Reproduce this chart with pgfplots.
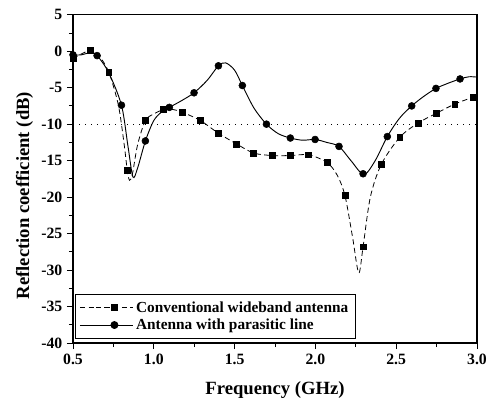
\documentclass[border=0pt]{standalone}
\usepackage{pgfplots}
\pgfplotsset{compat=1.18}
\usepackage{fontspec}
\setmainfont{Liberation Serif}
\begin{document}
\begin{tikzpicture}
\path[use as bounding box] (-54.75pt,-46.5pt) rectangle (313.5pt,257.25pt);
\begin{axis}[
  scale only axis, width=303pt, height=246.2pt,
  at={(0,0)}, anchor=south west,
  xmin=0.5, xmax=3.0, ymin=-40, ymax=5,
  xtick={0.5,1.0,...,3.0}, ytick={-40,-35,...,5},
  minor x tick num=1, minor y tick num=1,
  tick align=outside, xtick pos=bottom, ytick pos=left,
  major tick length=4.5pt, minor tick length=3pt,
  tick style={black, line width=0.7pt},
  axis line style={line width=0.8pt},
  /pgf/number format/assume math mode=true,
  xticklabel style={/pgf/number format/fixed, /pgf/number format/fixed zerofill, /pgf/number format/precision=1},
  ticklabel style={font=\bfseries\fontsize{11.8}{13}\selectfont},
  xlabel={\bfseries Frequency (GHz)},
  ylabel={\bfseries Reflection coefficient (dB)},
  label style={font=\bfseries\fontsize{14}{16}\selectfont},
  xlabel style={at={(axis description cs:0.5,-0.142)}, anchor=center},
  ylabel style={at={(axis description cs:-0.12,0.449)}, anchor=center, rotate=0},
  legend style={at={(axis description cs:0.005,0.012)}, anchor=south west, draw=black, line width=0.6pt,
    font=\bfseries\fontsize{11.5}{13}\selectfont, inner xsep=3pt, inner ysep=3.5pt, row sep=-0.5pt},
  legend cell align=left,
  legend image code/.code={\path (0cm,0cm) -- (0.42cm,0cm); \draw[mark repeat=2,mark phase=2] plot coordinates {(0.42cm,0cm) (0.91cm,0cm) (1.40cm,0cm)};},
]
\addplot[black, line width=0.6pt, dash pattern=on 1pt off 3.5pt, forget plot] coordinates {(0.5,-10) (3.0,-10)};
% conventional: line
\addplot[black, line width=0.6pt, dash pattern=on 4pt off 2.5pt, smooth, tension=0.5, forget plot] coordinates {
(0.5,-1.0) (0.55,-0.4) (0.608,0.1) (0.66,-0.6) (0.721,-2.85) (0.78,-7.3) (0.815,-12.5) (0.836,-16.35) (0.85,-17.7)
(0.868,-16.8) (0.9,-12.8) (0.948,-9.5) (1.0,-8.6) (1.061,-8.0) (1.12,-8.0) (1.175,-8.35) (1.288,-9.5) (1.397,-11.2)
(1.511,-12.7) (1.618,-13.96) (1.734,-14.3) (1.847,-14.3) (1.958,-14.2) (2.072,-15.25) (2.135,-17) (2.183,-19.8)
(2.23,-25.5) (2.268,-30.4) (2.295,-26.8) (2.34,-20) (2.408,-15.5) (2.522,-11.8) (2.635,-9.85) (2.749,-8.5)
(2.862,-7.25) (2.975,-6.3) (3.0,-6.1)};
% parasitic: line
\addplot[black, line width=0.7pt, smooth, tension=0.5, forget plot] coordinates {
(0.5,-0.5) (0.55,-0.5) (0.61,-0.2) (0.649,-0.6) (0.72,-2.9) (0.8,-7.4) (0.84,-13) (0.871,-17.25) (0.9,-16)
(0.948,-12.3) (1.0,-9.5) (1.05,-8.3) (1.096,-7.7) (1.17,-6.8) (1.249,-5.7) (1.33,-4.0) (1.4,-2.0) (1.445,-1.6)
(1.5,-2.6) (1.548,-4.7) (1.62,-7.8) (1.697,-10.0) (1.77,-11.3) (1.845,-11.9) (1.92,-12.2) (1.998,-12.1)
(2.07,-12.5) (2.146,-13.05) (2.22,-15) (2.30,-16.9) (2.37,-15) (2.445,-11.7) (2.52,-9.2) (2.596,-7.5)
(2.67,-6.2) (2.746,-5.1) (2.82,-4.4) (2.895,-3.8) (2.95,-3.5) (3.0,-3.55)};
% markers
\addplot[only marks, mark=square*, mark size=2.2pt, black, forget plot] coordinates {
(0.5,-1.0) (0.608,0.1) (0.721,-2.85) (0.836,-16.35) (0.948,-9.5) (1.061,-8.0) (1.175,-8.35) (1.288,-9.5)
(1.397,-11.2) (1.511,-12.7) (1.618,-13.96) (1.734,-14.3) (1.847,-14.3) (1.958,-14.2) (2.072,-15.25)
(2.183,-19.8) (2.295,-26.8) (2.408,-15.5) (2.522,-11.8) (2.635,-9.85) (2.749,-8.5) (2.862,-7.25) (2.975,-6.3)};
\addplot[only marks, mark=*, mark size=2.6pt, black, forget plot] coordinates {
(0.5,-0.5) (0.649,-0.6) (0.8,-7.4) (0.948,-12.3) (1.096,-7.7) (1.249,-5.7) (1.4,-2.0) (1.548,-4.7)
(1.697,-10.0) (1.845,-11.9) (1.998,-12.1) (2.146,-13.05) (2.295,-16.8) (2.445,-11.7) (2.596,-7.5)
(2.746,-5.1) (2.895,-3.8)};
\addlegendimage{black, line width=0.6pt, dash pattern=on 4pt off 2.5pt, mark=square*, mark size=2.2pt, mark options={solid}}
\addlegendentry{Conventional wideband antenna}
\addlegendimage{black, line width=0.7pt, mark=*, mark size=2.6pt}
\addlegendentry{Antenna with parasitic line}
\end{axis}
\end{tikzpicture}
\end{document}
